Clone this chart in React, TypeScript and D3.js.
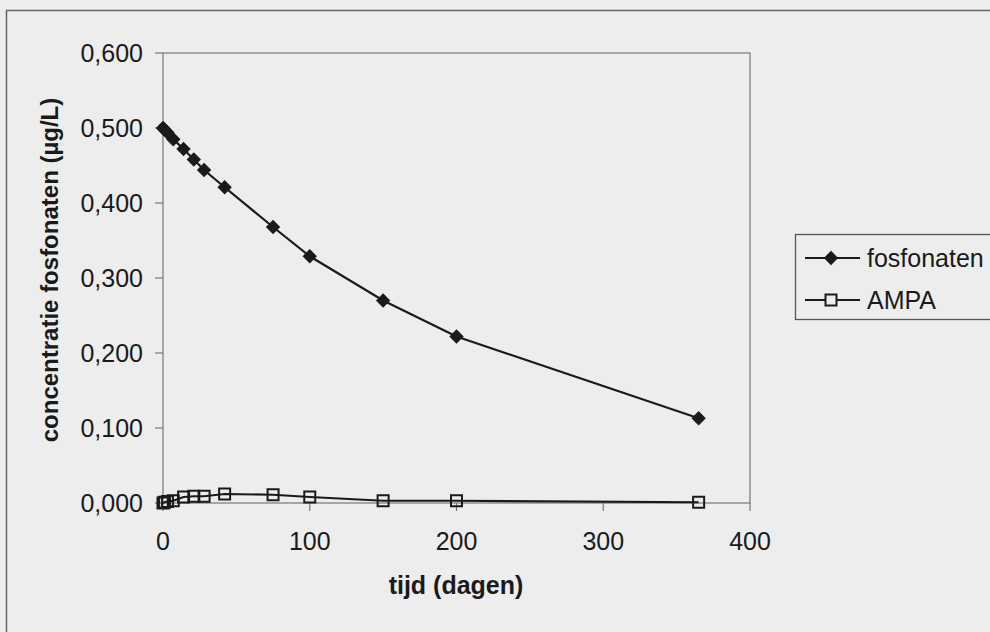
import React from "react";
import * as d3 from "d3";

const days = [0, 1, 3, 7, 14, 21, 28, 42, 75, 100, 150, 200, 365];
const fosfonaten = [0.5, 0.498, 0.494, 0.485, 0.472, 0.458, 0.444, 0.421, 0.368, 0.329, 0.27, 0.222, 0.113];
const ampa = [0.0, 0.001, 0.002, 0.003, 0.008, 0.009, 0.009, 0.012, 0.011, 0.008, 0.003, 0.003, 0.001];
const xTicks = [0, 100, 200, 300, 400];
const yTicks = [0, 0.1, 0.2, 0.3, 0.4, 0.5, 0.6];
const seriesNames = ["fosfonaten", "AMPA"];

const W = 990;
const H = 632;
const FONT = "'Liberation Sans', Arial, sans-serif";
const INK = "#1a1a1a";

const locale = d3.formatLocale({ decimal: ",", thousands: ".", grouping: [3], currency: ["€", ""] });
const fmtY = locale.format(".3f");

export default function App() {
  const x = d3.scaleLinear().domain([0, 400]).range([163, 750]);
  const y = d3.scaleLinear().domain([0, 0.6]).range([503, 53]);
  const line = d3
    .line<number>()
    .x((_, i) => x(days[i]))
    .y((d) => y(d));
  const diamond = (cx: number, cy: number, r = 7.2) =>
    `M${cx},${cy - r}L${cx + r},${cy}L${cx},${cy + r}L${cx - r},${cy}Z`;
  const sq = 11;

  return (
    <svg
      width={W}
      height={H}
      style={{ position: "absolute", left: 0, top: 0, display: "block" }}
      fontFamily={FONT}
    >
      <rect x={0} y={0} width={W} height={H} fill="#ededee" />
      <rect x={6.5} y={10.5} width={1000} height={700} fill="none" stroke="#666" strokeWidth={1.5} />

      {/* plot area */}
      <rect
        x={x(0)}
        y={y(0.6)}
        width={x(400) - x(0)}
        height={y(0) - y(0.6)}
        fill="none"
        stroke="#777"
        strokeWidth={1.2}
      />

      {/* y axis */}
      {yTicks.map((t) => (
        <g key={"y" + t}>
          <line x1={x(0) - 8} x2={x(0)} y1={y(t)} y2={y(t)} stroke="#777" strokeWidth={1.2} />
          <text
            x={143}
            y={y(t)}
            textAnchor="end"
            dominantBaseline="central"
            fontSize={25}
            fill={INK}
          >
            {fmtY(t)}
          </text>
        </g>
      ))}

      {/* x axis */}
      {xTicks.map((t) => (
        <g key={"x" + t}>
          <line x1={x(t)} x2={x(t)} y1={y(0)} y2={y(0) + 8} stroke="#777" strokeWidth={1.2} />
          <text x={x(t)} y={550} textAnchor="middle" fontSize={25} fill={INK}>
            {t}
          </text>
        </g>
      ))}

      <text x={456} y={594} textAnchor="middle" fontSize={25} fontWeight="bold" fill={INK}>
        tijd (dagen)
      </text>
      <text
        transform={`translate(58,270) rotate(-90)`}
        textAnchor="middle"
        fontSize={24}
        fontWeight="bold"
        fill={INK}
      >
        concentratie fosfonaten (µg/L)
      </text>

      {/* series */}
      <path d={line(fosfonaten) || ""} fill="none" stroke={INK} strokeWidth={2.2} />
      {fosfonaten.map((v, i) => (
        <path key={"f" + i} d={diamond(x(days[i]), y(v))} fill={INK} />
      ))}
      <path d={line(ampa) || ""} fill="none" stroke={INK} strokeWidth={2.2} />
      {ampa.map((v, i) => (
        <rect
          key={"a" + i}
          x={x(days[i]) - sq / 2}
          y={y(v) - sq / 2}
          width={sq}
          height={sq}
          fill="none"
          stroke={INK}
          strokeWidth={2}
        />
      ))}

      {/* legend */}
      <rect x={795.5} y={234.5} width={300} height={85} fill="none" stroke="#555" strokeWidth={1.3} />
      <line x1={805} x2={860} y1={258} y2={258} stroke={INK} strokeWidth={2.2} />
      <path d={diamond(831, 258)} fill={INK} />
      <text x={867} y={258} dominantBaseline="central" fontSize={25} fill={INK}>
        {seriesNames[0]}
      </text>
      <line x1={805} x2={860} y1={300} y2={300} stroke={INK} strokeWidth={2.2} />
      <rect x={831 - sq / 2} y={300 - sq / 2} width={sq} height={sq} fill="#ededee" stroke={INK} strokeWidth={2} />
      <text x={867} y={300} dominantBaseline="central" fontSize={25} fill={INK}>
        {seriesNames[1]}
      </text>
    </svg>
  );
}
